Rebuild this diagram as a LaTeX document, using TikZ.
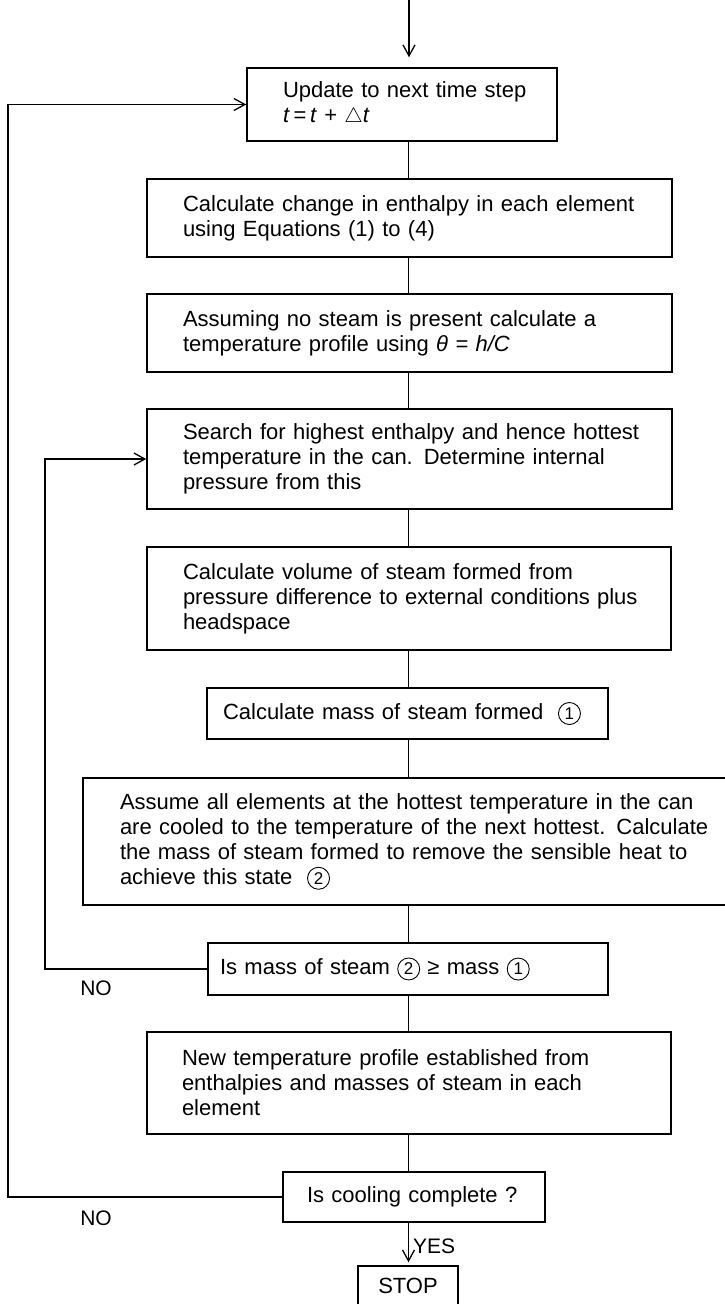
\documentclass[tikz,border=0pt]{standalone}
\usepackage{fontspec}
\setmainfont{Liberation Sans}
\usetikzlibrary{arrows.meta}
\newcommand\cnum[1]{\tikz[baseline=(cn.base)]\node[circle,draw,line width=0.9pt,inner sep=0pt,minimum size=22pt,font=\fontsize{17}{17}\selectfont](cn){#1};}
\begin{document}
\begin{tikzpicture}[x=1pt,y=-1pt,
  box/.style={draw, line width=1.5pt, rectangle, align=left, inner ysep=0pt,
    font=\fontsize{22}{25}\selectfont},
  lbl/.style={font=\fontsize{21}{24}\selectfont, inner sep=0pt},
  conn/.style={line width=1.3pt},
  arr/.style={line width=1.3pt, -{Straight Barb[length=11pt,width=12pt,line width=1.3pt]}}]
\useasboundingbox[fill=white] (0,0) rectangle (725,1304);
\coordinate (top) at (409,0);
\coordinate (ax) at (408.5,0);
\coordinate (lo) at (8,0);
\coordinate (li) at (45,0);

\node[box, text width=238pt, inner xsep=36pt, minimum height=73pt] (b1) at (402,104.5)
  {\mbox{Update to next time step}\\\mbox{\textit{t}\,=\,\textit{t} + $\triangle$\textit{t}}};
\node[box, text width=453pt, inner xsep=36pt, minimum height=78pt] (b2) at (409.5,218)
  {\mbox{Calculate change in enthalpy in each element}\\\mbox{using Equations (1) to (4)}};
\node[box, text width=453pt, inner xsep=36pt, minimum height=78pt] (b3) at (409.5,333)
  {\mbox{Assuming no steam is present calculate a}\\\mbox{temperature profile using \textit{θ = h/C}}};
\node[box, text width=453pt, inner xsep=36pt, minimum height=100pt] (b4) at (409.5,459)
  {\mbox{Search for highest enthalpy and hence hottest}\\\mbox{temperature in the can. Determine internal}\\\mbox{pressure from this}};
\node[box, text width=452pt, inner xsep=36pt, minimum height=103pt] (b5) at (409,598.5)
  {\mbox{Calculate volume of steam formed from}\\\mbox{pressure difference to external conditions plus}\\\mbox{headspace}};
\node[box, text width=369pt, inner xsep=16pt, minimum height=51pt] (b6) at (407.5,713.5)
  {\mbox{Calculate mass of steam formed \ \cnum{1}}};
\node[box, text width=576pt, inner xsep=37pt, minimum height=127pt] (b7) at (408,841.5)
  {\mbox{Assume all elements at the hottest temperature in the can}\\\mbox{are cooled to the temperature of the next hottest. Calculate}\\\mbox{the mass of steam formed to remove the sensible heat to}\\\mbox{achieve this state \ \cnum{2}}};
\node[box, text width=376pt, inner xsep=12pt, minimum height=52pt] (b8) at (408,969)
  {\mbox{Is mass of steam \cnum{2} ≥ mass \cnum{1}}};
\node[box, text width=454pt, inner xsep=35pt, minimum height=102pt] (b9) at (409,1083)
  {\mbox{New temperature profile established from}\\\mbox{enthalpies and masses of steam in each}\\\mbox{element}};
\node[box, text width=214pt, inner xsep=24pt, minimum height=50pt] (b10) at (414,1197)
  {\mbox{Is cooling complete ?}};
\node[box, align=center, inner sep=0pt, minimum width=100pt, minimum height=40pt] (stop) at (408,1286) {STOP};

\node[lbl] (no1) at (96,988) {NO};
\node[lbl] (no2) at (96,1218) {NO};
\node[lbl, anchor=west] (yes) at (413,1246) {YES};

\draw[arr, shorten >=10pt] (top) -- (b1.north -| top);
\draw[conn] (b1.south -| ax) -- (b2.north -| ax);
\draw[conn] (b2.south -| ax) -- (b3.north -| ax);
\draw[conn] (b3.south -| ax) -- (b4.north -| ax);
\draw[conn] (b4.south -| ax) -- (b5.north -| ax);
\draw[conn] (b5.south -| ax) -- (b6.north -| ax);
\draw[conn] (b6.south -| ax) -- (b7.north -| ax);
\draw[conn] (b7.south -| ax) -- (b8.north -| ax);
\draw[conn] (b8.south -| ax) -- (b9.north -| ax);
\draw[conn] (b9.south -| ax) -- (b10.north -| ax);
\draw[arr, shorten >=3pt] (b10.south -| ax) -- (stop.north -| ax);
\draw[arr] (b10.west) -- (b10.west -| lo) -- (b1.west -| lo) -- (b1.west);
\draw[arr] (b8.west) -- (b8.west -| li) -- (b4.west -| li) -- (b4.west);
\end{tikzpicture}
\end{document}
